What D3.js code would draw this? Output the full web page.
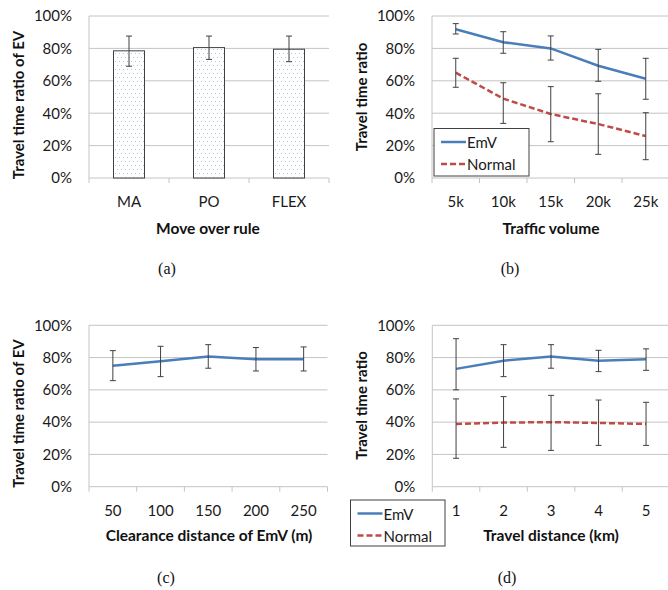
<!DOCTYPE html>
<html>
<head>
<meta charset="utf-8">
<script src="https://cdn.jsdelivr.net/npm/d3@7"></script>
<style>
  body { margin: 0; background: #fff; }
  svg { display: block; }
</style>
</head>
<body>
<div id="chart"></div>
<script>
// y ticks shared by all four panels
const yTicks = [0, 0.2, 0.4, 0.6, 0.8, 1];

// (a) move over rule
const catA = ['MA', 'PO', 'FLEX'];
const valA = [0.785, 0.805, 0.795];
const hiA = [0.876, 0.876, 0.876];
const loA = [0.69, 0.732, 0.718];

// (b) traffic volume
const catB = ['5k', '10k', '15k', '20k', '25k'];
const emvB = [0.918, 0.838, 0.80, 0.693, 0.613];
const emvHiB = [0.953, 0.903, 0.877, 0.794, 0.739];
const emvLoB = [0.889, 0.77, 0.728, 0.597, 0.486];
const normB = [0.65, 0.49, 0.395, 0.333, 0.259];
const normHiB = [0.739, 0.588, 0.564, 0.52, 0.403];
const normLoB = [0.56, 0.337, 0.224, 0.146, 0.113];

// (c) clearance distance
const catC = ['50', '100', '150', '200', '250'];
const emvC = [0.75, 0.777, 0.806, 0.79, 0.79];
const emvHiC = [0.843, 0.87, 0.88, 0.862, 0.866];
const emvLoC = [0.657, 0.682, 0.734, 0.717, 0.717];

// (d) travel distance
const catD = ['1', '2', '3', '4', '5'];
const emvD = [0.73, 0.781, 0.806, 0.781, 0.79];
const emvHiD = [0.917, 0.88, 0.88, 0.845, 0.854];
const emvLoD = [0.60, 0.682, 0.734, 0.713, 0.721];
const normD = [0.389, 0.397, 0.40, 0.395, 0.389];
const normHiD = [0.544, 0.558, 0.566, 0.537, 0.523];
const normLoD = [0.176, 0.244, 0.225, 0.256, 0.256];

const W = 668, H = 590;
const FONT = 'Lato, "Open Sans", sans-serif';
const GRID = '#c4c4c4';
const DARK = '#404040';
const BLUE = '#4a7ebb';
const RED = '#be4b48';

const svg = d3.select('#chart').append('svg')
  .attr('width', W)
  .attr('height', H);

// dotted fill for the bars (staggered light blue dots)
const pat = svg.append('defs').append('pattern')
  .attr('id', 'dots')
  .attr('patternUnits', 'userSpaceOnUse')
  .attr('width', 4)
  .attr('height', 8);
pat.append('rect').attr('width', 4).attr('height', 8).attr('fill', '#fff');
pat.append('rect').attr('x', 1).attr('y', 1).attr('width', 1).attr('height', 1).attr('fill', '#b3c8e6');
pat.append('rect').attr('x', 3).attr('y', 5).attr('width', 1).attr('height', 1).attr('fill', '#b3c8e6');

function panel(opt) {
  const g = svg.append('g');
  const x = d3.scaleBand().domain(opt.cats).range([opt.left, opt.right]);
  const y = d3.scaleLinear().domain([0, 1]).range([opt.bottom, opt.top]);
  const gridRight = Math.min(opt.right, W);

  // grid lines
  g.append('g').selectAll('line')
    .data(yTicks.filter((d) => d > 0))
    .join('line')
      .attr('x1', opt.left)
      .attr('x2', gridRight)
      .attr('y1', (d) => y(d))
      .attr('y2', (d) => y(d))
      .attr('stroke', GRID)
      .attr('stroke-width', 1);

  // y axis line
  g.append('line')
    .attr('x1', opt.left).attr('x2', opt.left)
    .attr('y1', opt.top).attr('y2', opt.bottom)
    .attr('stroke', GRID);

  // y tick labels
  g.append('g')
    .attr('transform', `translate(${opt.left},0)`)
    .call(d3.axisLeft(y).tickValues(yTicks).tickFormat(d3.format('.0%')).tickSize(0).tickPadding(17))
    .call((a) => a.select('.domain').remove())
    .selectAll('text')
      .style('font-family', FONT)
      .style('font-size', '15px')
      .attr('fill', '#1a1a1a');

  // x axis line + band ticks
  g.append('line')
    .attr('x1', opt.left).attr('x2', gridRight)
    .attr('y1', opt.bottom).attr('y2', opt.bottom)
    .attr('stroke', GRID);
  g.append('g').selectAll('line')
    .data(d3.range(opt.cats.length + 1))
    .join('line')
      .attr('x1', (i) => opt.left + i * x.step())
      .attr('x2', (i) => opt.left + i * x.step())
      .attr('y1', opt.bottom)
      .attr('y2', opt.bottom + 5)
      .attr('stroke', GRID);

  g.append('g')
    .attr('transform', `translate(0,${opt.bottom})`)
    .call(d3.axisBottom(x).tickSize(0).tickPadding(18.5))
    .call((a) => a.select('.domain').remove())
    .selectAll('text')
      .style('font-family', FONT)
      .style('font-size', '15px')
      .attr('fill', '#1a1a1a');

  // axis titles
  g.append('text')
    .attr('transform', `translate(${opt.yTitleX},${opt.yTitleY}) rotate(-90)`)
    .attr('text-anchor', 'middle')
    .attr('dominant-baseline', 'central')
    .style('font-family', FONT)
    .style('font-size', '15px')
    .style('font-weight', 'bold')
    .attr('fill', '#111')
    .text(opt.yTitle);
  g.append('text')
    .attr('x', opt.xTitleX)
    .attr('y', opt.xTitleY)
    .attr('text-anchor', 'middle')
    .attr('dominant-baseline', 'central')
    .style('font-family', FONT)
    .style('font-size', '15.5px')
    .style('font-weight', 'bold')
    .attr('fill', '#111')
    .text(opt.xTitle);

  // caption
  g.append('text')
    .attr('x', opt.capX)
    .attr('y', opt.capY)
    .attr('text-anchor', 'middle')
    .style('font-family', '"Liberation Serif", "DejaVu Serif", serif')
    .style('font-size', '16px')
    .attr('fill', '#111')
    .text(opt.caption);

  return { g, x, y };
}

function errorBars(g, x, y, cats, hi, lo) {
  const cx = (i) => x(cats[i]) + x.bandwidth() / 2;
  const eb = g.append('g').attr('stroke', DARK).attr('stroke-width', 1);
  cats.forEach((c, i) => {
    eb.append('line').attr('x1', cx(i)).attr('x2', cx(i)).attr('y1', y(hi[i])).attr('y2', y(lo[i]));
    eb.append('line').attr('x1', cx(i) - 3).attr('x2', cx(i) + 3).attr('y1', y(hi[i])).attr('y2', y(hi[i]));
    eb.append('line').attr('x1', cx(i) - 3).attr('x2', cx(i) + 3).attr('y1', y(lo[i])).attr('y2', y(lo[i]));
  });
}

function series(g, x, y, cats, vals, color, dash) {
  const line = d3.line()
    .x((d, i) => x(cats[i]) + x.bandwidth() / 2)
    .y((d) => y(d));
  g.append('path')
    .datum(vals)
    .attr('d', line)
    .attr('fill', 'none')
    .attr('stroke', color)
    .attr('stroke-width', 2.5)
    .attr('stroke-dasharray', dash || null);
}

function legend(x0, y0, w, h) {
  const lg = svg.append('g').attr('transform', `translate(${x0},${y0})`);
  lg.append('rect')
    .attr('width', w).attr('height', h)
    .attr('fill', '#fff')
    .attr('stroke', DARK)
    .attr('stroke-width', 1);
  const items = [['EmV', BLUE, null], ['Normal', RED, '6,3']];
  items.forEach(([name, color, dash], i) => {
    const yy = 13.5 + i * 22;
    lg.append('line')
      .attr('x1', 7).attr('x2', 32)
      .attr('y1', yy).attr('y2', yy)
      .attr('stroke', color)
      .attr('stroke-width', 2.5)
      .attr('stroke-dasharray', dash);
    lg.append('text')
      .attr('x', 33).attr('y', yy)
      .attr('dominant-baseline', 'central')
      .style('font-family', FONT)
      .style('font-size', '15px')
      .attr('fill', '#1a1a1a')
      .text(name);
  });
}

// ---- (a)
{
  const { g, x, y } = panel({
    cats: catA, left: 89, right: 329, top: 16, bottom: 178,
    yTitle: 'Travel time ratio of EV', yTitleX: 18, yTitleY: 105,
    xTitle: 'Move over rule', xTitleX: 208, xTitleY: 228,
    caption: '(a)', capX: 167, capY: 274,
  });
  const bw = 31;
  g.append('g').selectAll('rect')
    .data(valA)
    .join('rect')
      .attr('x', (d, i) => x(catA[i]) + x.bandwidth() / 2 - bw / 2)
      .attr('y', (d) => y(d))
      .attr('width', bw)
      .attr('height', (d) => y(0) - y(d))
      .attr('fill', 'url(#dots)')
      .attr('stroke', DARK)
      .attr('stroke-width', 1);
  errorBars(g, x, y, catA, hiA, loA);
}

// ---- (b)
{
  const { g, x, y } = panel({
    cats: catB, left: 432, right: 669.5, top: 16, bottom: 178,
    yTitle: 'Travel time ratio', yTitleX: 361, yTitleY: 97,
    xTitle: 'Traffic volume', xTitleX: 551, xTitleY: 228,
    caption: '(b)', capX: 510, capY: 274,
  });
  series(g, x, y, catB, emvB, BLUE);
  series(g, x, y, catB, normB, RED, '6,3');
  errorBars(g, x, y, catB, emvHiB, emvLoB);
  errorBars(g, x, y, catB, normHiB, normLoB);
  legend(434, 128.5, 95, 47.5);
}

// ---- (c)
{
  const { g, x, y } = panel({
    cats: catC, left: 89, right: 327.5, top: 325.3, bottom: 486.7,
    yTitle: 'Travel time ratio of EV', yTitleX: 18, yTitleY: 413.5,
    xTitle: 'Clearance distance of EmV (m)', xTitleX: 209, xTitleY: 535,
    caption: '(c)', capX: 166, capY: 583,
  });
  series(g, x, y, catC, emvC, BLUE);
  errorBars(g, x, y, catC, emvHiC, emvLoC);
}

// ---- (d)
{
  const { g, x, y } = panel({
    cats: catD, left: 432.3, right: 669.8, top: 325.3, bottom: 486.7,
    yTitle: 'Travel time ratio', yTitleX: 361, yTitleY: 405.5,
    xTitle: 'Travel distance (km)', xTitleX: 551, xTitleY: 535,
    caption: '(d)', capX: 507, capY: 583,
  });
  series(g, x, y, catD, emvD, BLUE);
  series(g, x, y, catD, normD, RED, '6,3');
  errorBars(g, x, y, catD, emvHiD, emvLoD);
  errorBars(g, x, y, catD, normHiD, normLoD);
  legend(350.5, 500, 94.5, 46);
}
</script>
</body>
</html>
